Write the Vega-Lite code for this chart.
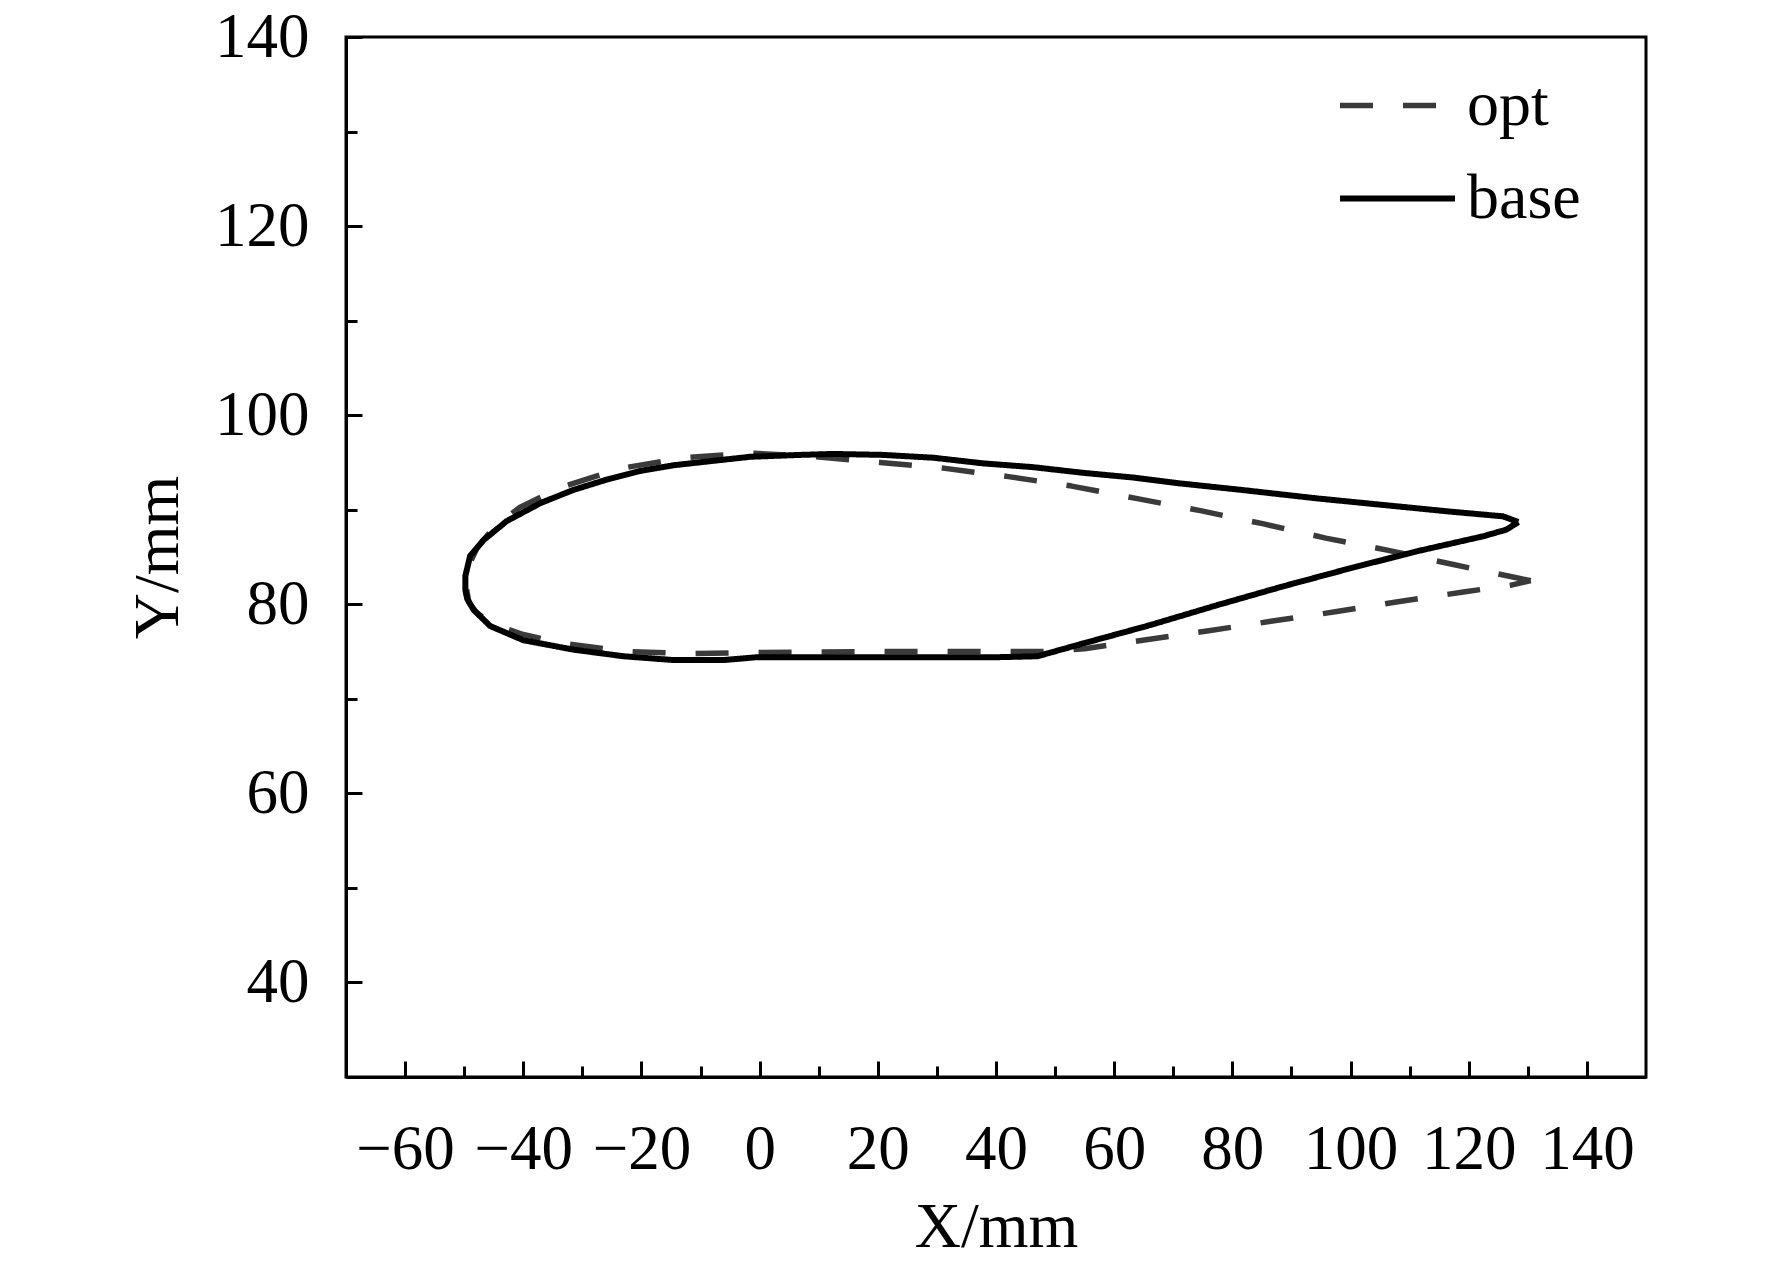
{
  "$schema": "https://vega.github.io/schema/vega-lite/v6.json",
  "autosize": "none",
  "width": 1300,
  "height": 1040,
  "padding": {"left": 346, "top": 37, "right": 126, "bottom": 189},
  "background": "white",
  "config": {
    "view": {"stroke": "black", "strokeWidth": 3},
    "font": "Liberation Serif",
    "axis": {
      "domainColor": "black",
      "domainWidth": 3,
      "tickColor": "black",
      "tickWidth": 3,
      "labelFont": "Liberation Serif",
      "labelColor": "black",
      "labelFontSize": 63,
      "titleFont": "Liberation Serif",
      "titleColor": "black",
      "titleFontSize": 64,
      "titleFontWeight": "normal",
      "grid": false
    }
  },
  "data": {
    "values": [
      {"series": "opt", "i": 1, "x": 130.5, "y": 82.5},
      {"series": "opt", "i": 2, "x": 128.1, "y": 82.8},
      {"series": "opt", "i": 3, "x": 117.4, "y": 84.2},
      {"series": "opt", "i": 4, "x": 106.4, "y": 85.7},
      {"series": "opt", "i": 5, "x": 95.8, "y": 87.0},
      {"series": "opt", "i": 6, "x": 85.3, "y": 88.5},
      {"series": "opt", "i": 7, "x": 74.6, "y": 89.9},
      {"series": "opt", "i": 8, "x": 63.7, "y": 91.2},
      {"series": "opt", "i": 9, "x": 52.8, "y": 92.5},
      {"series": "opt", "i": 10, "x": 42.1, "y": 93.5},
      {"series": "opt", "i": 11, "x": 31.1, "y": 94.4},
      {"series": "opt", "i": 12, "x": 20.4, "y": 95.0},
      {"series": "opt", "i": 13, "x": 9.4, "y": 95.6},
      {"series": "opt", "i": 14, "x": -1.6, "y": 96.0},
      {"series": "opt", "i": 15, "x": -12.6, "y": 95.5},
      {"series": "opt", "i": 16, "x": -23.3, "y": 94.4},
      {"series": "opt", "i": 17, "x": -33.5, "y": 92.4},
      {"series": "opt", "i": 18, "x": -40.7, "y": 90.2},
      {"series": "opt", "i": 19, "x": -45.0, "y": 88.1},
      {"series": "opt", "i": 20, "x": -47.8, "y": 86.0},
      {"series": "opt", "i": 21, "x": -49.3, "y": 84.0},
      {"series": "opt", "i": 22, "x": -49.7, "y": 82.0},
      {"series": "opt", "i": 23, "x": -49.2, "y": 80.2},
      {"series": "opt", "i": 24, "x": -48.0, "y": 79.2},
      {"series": "opt", "i": 25, "x": -45.6, "y": 78.0},
      {"series": "opt", "i": 26, "x": -40.0, "y": 76.8},
      {"series": "opt", "i": 27, "x": -33.5, "y": 75.9},
      {"series": "opt", "i": 28, "x": -22.5, "y": 75.0},
      {"series": "opt", "i": 29, "x": -11.5, "y": 74.8},
      {"series": "opt", "i": 30, "x": 0.0, "y": 74.9},
      {"series": "opt", "i": 31, "x": 20.0, "y": 75.0},
      {"series": "opt", "i": 32, "x": 40.0, "y": 75.0},
      {"series": "opt", "i": 33, "x": 49.0, "y": 75.0},
      {"series": "opt", "i": 34, "x": 55.0, "y": 75.3},
      {"series": "opt", "i": 35, "x": 66.0, "y": 76.3},
      {"series": "opt", "i": 36, "x": 76.0, "y": 77.2},
      {"series": "opt", "i": 37, "x": 86.5, "y": 78.2},
      {"series": "opt", "i": 38, "x": 97.4, "y": 79.2},
      {"series": "opt", "i": 39, "x": 108.3, "y": 80.3},
      {"series": "opt", "i": 40, "x": 119.1, "y": 81.3},
      {"series": "opt", "i": 41, "x": 127.0, "y": 82.0},
      {"series": "opt", "i": 42, "x": 130.5, "y": 82.5},
      {"series": "base", "i": 1, "x": 128.4, "y": 88.7},
      {"series": "base", "i": 2, "x": 125.8, "y": 89.3},
      {"series": "base", "i": 3, "x": 116.9, "y": 89.8},
      {"series": "base", "i": 4, "x": 94.3, "y": 91.2},
      {"series": "base", "i": 5, "x": 81.5, "y": 92.1},
      {"series": "base", "i": 6, "x": 70.9, "y": 92.8},
      {"series": "base", "i": 7, "x": 63.3, "y": 93.4},
      {"series": "base", "i": 8, "x": 54.8, "y": 93.9},
      {"series": "base", "i": 9, "x": 46.3, "y": 94.5},
      {"series": "base", "i": 10, "x": 37.9, "y": 94.9},
      {"series": "base", "i": 11, "x": 29.4, "y": 95.5},
      {"series": "base", "i": 12, "x": 20.9, "y": 95.8},
      {"series": "base", "i": 13, "x": 12.5, "y": 95.9},
      {"series": "base", "i": 14, "x": 6.9, "y": 95.8},
      {"series": "base", "i": 15, "x": -1.6, "y": 95.6},
      {"series": "base", "i": 16, "x": -8.9, "y": 95.1},
      {"series": "base", "i": 17, "x": -14.6, "y": 94.7},
      {"series": "base", "i": 18, "x": -20.2, "y": 94.1},
      {"series": "base", "i": 19, "x": -25.8, "y": 93.2},
      {"series": "base", "i": 20, "x": -31.5, "y": 92.1},
      {"series": "base", "i": 21, "x": -37.1, "y": 90.7},
      {"series": "base", "i": 22, "x": -42.8, "y": 88.8},
      {"series": "base", "i": 23, "x": -46.7, "y": 86.8},
      {"series": "base", "i": 24, "x": -49.0, "y": 85.1},
      {"series": "base", "i": 25, "x": -49.8, "y": 83.0},
      {"series": "base", "i": 26, "x": -49.8, "y": 81.5},
      {"series": "base", "i": 27, "x": -49.5, "y": 80.6},
      {"series": "base", "i": 28, "x": -48.4, "y": 79.4},
      {"series": "base", "i": 29, "x": -45.6, "y": 77.7},
      {"series": "base", "i": 30, "x": -40.0, "y": 76.2},
      {"series": "base", "i": 31, "x": -31.5, "y": 75.2},
      {"series": "base", "i": 32, "x": -23.0, "y": 74.5},
      {"series": "base", "i": 33, "x": -14.6, "y": 74.1},
      {"series": "base", "i": 34, "x": -6.1, "y": 74.1},
      {"series": "base", "i": 35, "x": -0.5, "y": 74.4},
      {"series": "base", "i": 36, "x": 20.0, "y": 74.4},
      {"series": "base", "i": 37, "x": 40.0, "y": 74.4},
      {"series": "base", "i": 38, "x": 47.0, "y": 74.5},
      {"series": "base", "i": 39, "x": 55.0, "y": 75.9},
      {"series": "base", "i": 40, "x": 66.1, "y": 77.8},
      {"series": "base", "i": 41, "x": 77.4, "y": 79.9},
      {"series": "base", "i": 42, "x": 88.6, "y": 81.9},
      {"series": "base", "i": 43, "x": 99.9, "y": 83.8},
      {"series": "base", "i": 44, "x": 111.2, "y": 85.6},
      {"series": "base", "i": 45, "x": 122.5, "y": 87.2},
      {"series": "base", "i": 46, "x": 126.4, "y": 87.9},
      {"series": "base", "i": 47, "x": 128.4, "y": 88.7}
    ]
  },
  "mark": {"type": "line", "strokeCap": "butt", "strokeJoin": "round", "clip": true},
  "encoding": {
    "x": {
      "field": "x", "type": "quantitative",
      "scale": {"domain": [-70, 150], "nice": false, "zero": false},
      "axis": {
        "title": "X/mm",
        "values": [-60, -50, -40, -30, -20, -10, 0, 10, 20, 30, 40, 50, 60, 70, 80, 90, 100, 110, 120, 130, 140],
        "labelExpr": "datum.value % 20 === 0 ? datum.label : ''",
        "tickSize": {"condition": {"test": "datum.value % 20 === 0", "value": -16}, "value": -11},
        "labelPadding": 57,
        "labelBaseline": "top",
        "titlePadding": 14
      }
    },
    "y": {
      "field": "y", "type": "quantitative",
      "scale": {"domain": [30, 140], "nice": false, "zero": false},
      "axis": {
        "title": "Y/mm",
        "values": [40, 50, 60, 70, 80, 90, 100, 110, 120, 130, 140],
        "labelExpr": "datum.value % 20 === 0 ? datum.label : ''",
        "tickSize": {"condition": {"test": "datum.value % 20 === 0", "value": -16}, "value": -11},
        "labelPadding": 53,
        "titlePadding": 24
      }
    },
    "order": {"field": "i", "type": "quantitative"},
    "color": {
      "field": "series", "type": "nominal",
      "scale": {"domain": ["opt", "base"], "range": ["#3a3a3a", "black"]},
      "legend": {
        "title": null,
        "orient": "none",
        "legendX": 991,
        "legendY": 8,
        "padding": 0,
        "symbolType": "stroke",
        "symbolSize": 13225,
        "symbolStrokeWidth": 5.5,
        "labelFont": "Liberation Serif",
        "labelFontSize": 64,
        "labelColor": "black",
        "labelOffset": 9,
        "rowPadding": 0
      }
    },
    "strokeDash": {
      "field": "series", "type": "nominal",
      "scale": {"domain": ["opt", "base"], "range": [[33, 30], [1, 0]]}
    },
    "strokeWidth": {
      "field": "series", "type": "nominal",
      "scale": {"domain": ["opt", "base"], "range": [5.5, 6]},
      "legend": null
    }
  }
}
